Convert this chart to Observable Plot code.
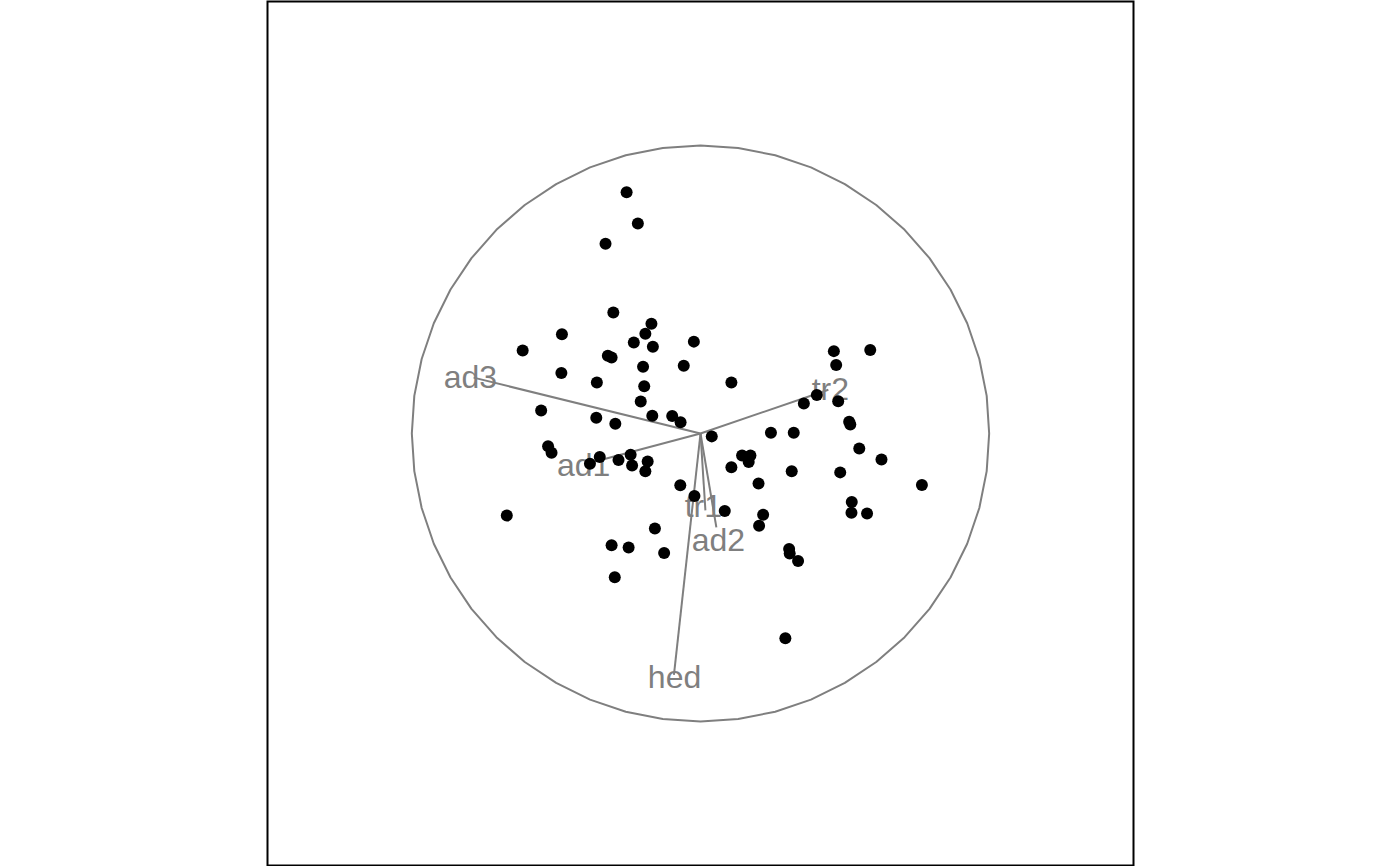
<!DOCTYPE html>
<html><head><meta charset="utf-8">
<script src="https://cdn.jsdelivr.net/npm/d3@7"></script>
<script src="https://cdn.jsdelivr.net/npm/@observablehq/plot@0.6"></script>
<style>html,body{margin:0;padding:0;background:#fff}#chart svg{display:block}</style>
</head><body><div id="chart"></div>
<script>
// Row scores (points)
const pointX = [-0.256,-0.217,-0.329,-0.302,-0.170,-0.191,-0.480,-0.231,-0.165,-0.023,
  -0.616,-0.321,-0.308,-0.199,-0.058,-0.482,-0.359,-0.195,0.107,-0.207,
  -0.552,-0.361,-0.295,-0.167,-0.098,-0.069,-0.528,-0.516,-0.349,-0.383,
  -0.284,-0.242,-0.237,-0.183,-0.191,0.039,-0.070,-0.021,0.084,-0.158,
  -0.308,-0.249,-0.126,-0.297,-0.671,0.294,0.462,0.588,0.470,0.403,
  0.358,0.477,0.515,0.519,0.244,0.323,0.144,0.173,0.167,0.107,
  0.550,0.627,0.484,0.316,0.201,0.767,0.524,0.523,0.577,0.217,
  0.203,0.307,0.309,0.338];
const pointY = [0.838,0.729,0.659,0.420,0.381,0.346,0.345,0.316,0.301,0.319,
  0.288,0.270,0.264,0.232,0.235,0.210,0.177,0.164,0.177,0.111,
  0.080,0.055,0.034,0.062,0.061,0.039,-0.044,-0.067,-0.082,-0.105,
  -0.092,-0.074,-0.111,-0.097,-0.131,-0.010,-0.180,-0.217,-0.269,-0.330,
  -0.388,-0.396,-0.415,-0.499,-0.285,-0.711,0.286,0.290,0.238,0.134,
  0.104,0.112,0.041,0.031,0.003,0.003,-0.076,-0.076,-0.099,-0.117,
  -0.052,-0.090,-0.135,-0.131,-0.174,-0.179,-0.238,-0.275,-0.278,-0.282,
  -0.320,-0.401,-0.417,-0.443];

// Variable loadings (arrows) and their label anchors
const varNames = ["ad1","ad2","ad3","tr1","tr2","hed"];
const loadX  = [-0.391, 0.055, -0.786, 0.017, 0.443, -0.092];
const loadY  = [-0.104, -0.326, 0.194, -0.267, 0.152, -0.838];
const labelX = [-0.405, 0.062, -0.797, 0.010, 0.450, -0.090];
const labelY = [-0.111, -0.374, 0.194, -0.256, 0.152, -0.849];

const points = pointX.map((x, i) => ({x, y: pointY[i]}));
const vars = varNames.map((name, i) => ({name, x: loadX[i], y: loadY[i], lx: labelX[i], ly: labelY[i]}));
const circle = d3.range(0, 49).map(i => {
  const a = (i / 48) * 2 * Math.PI;
  return {x: Math.cos(a), y: Math.sin(a)};
});

const grey = "#7f7f7f";
const chart = Plot.plot({
  width: 1400,
  height: 866,
  marginLeft: 267,
  marginRight: 267,
  marginTop: 1,
  marginBottom: 1,
  x: {domain: [-1.5, 1.5], axis: null},
  y: {domain: [-1.5, 1.5], axis: null},
  style: {background: "white"},
  marks: [
    Plot.line(circle, {x: "x", y: "y", stroke: grey, strokeWidth: 2}),
    Plot.link(vars, {x1: () => 0, y1: () => 0, x2: "x", y2: "y", stroke: grey, strokeWidth: 2}),
    Plot.text(vars, {x: "lx", y: "ly", text: "name", fill: grey, fontSize: 32,
      fontFamily: "'Liberation Sans', Arial, Helvetica, sans-serif", textAnchor: "middle"}),
    Plot.dot(points, {x: "x", y: "y", r: 6, fill: "black", stroke: "none"}),
    Plot.frame({stroke: "black", strokeWidth: 2})
  ]
});
document.getElementById("chart").appendChild(chart);
</script>
</body></html>
